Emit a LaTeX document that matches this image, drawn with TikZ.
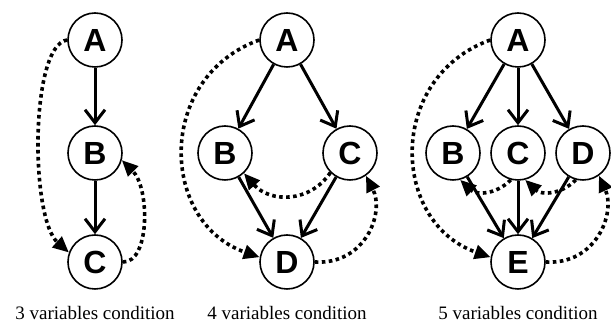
\documentclass[tikz,border=0pt]{standalone}
\usepackage{fontspec}
\setmainfont{Liberation Serif}
\newfontfamily\nodefont{Liberation Sans}
\usetikzlibrary{arrows.meta}
\begin{document}
\begin{tikzpicture}[x=1pt,y=1pt,
  var/.style={circle,draw,line width=1.6pt,minimum size=54pt,inner sep=0pt,
    font=\nodefont\bfseries\fontsize{32}{32}\selectfont},
  cause/.style={line width=3pt,-{Straight Barb[length=13pt,width=20pt,line join=miter]}},
  hidden/.style={line width=3.6pt,dash pattern=on 3.6pt off 3.4pt,
    -{Triangle[length=16pt,width=14pt]}},
  caption/.style={anchor=base,font=\fontsize{19}{19}\selectfont,inner sep=0pt}]
\useasboundingbox (0,0) rectangle (611,323);
% panel 1
\node[var] (p1a) at (95,283) {A};
\node[var] (p1b) at (95,170) {B};
\node[var] (p1c) at (95,61) {C};
\draw[cause] (p1a) -- (p1b);
\draw[cause] (p1b) -- (p1c);
\draw[hidden] (p1a.west) .. controls (30,278) and (30,105) .. (p1c.160);
\draw[hidden] (p1c.east) .. controls (150,60) and (150,135) .. (p1b.-15);
\node[caption] (cap1) at (95,3) {3 variables condition};
% panel 2
\node[var] (p2a) at (287,283) {A};
\node[var] (p2b) at (225,170) {B};
\node[var] (p2c) at (350,170) {C};
\node[var] (p2d) at (287,61) {D};
\draw[cause] (p2a) -- (p2b);
\draw[cause] (p2a) -- (p2c);
\draw[cause] (p2b) -- (p2d);
\draw[cause] (p2c) -- (p2d);
\draw[hidden] (p2a.west) .. controls (155,245) and (160,100) .. (p2d.170);
\draw[hidden] (p2c.225) .. controls (310,120) and (270,120) .. (p2b.-47);
\draw[hidden] (p2d.east) .. controls (365,58) and (385,110) .. (p2c.-55);
\node[caption] (cap2) at (287,3) {4 variables condition};
% panel 3
\node[var] (p3a) at (518,283) {A};
\node[var] (p3b) at (453,170) {B};
\node[var] (p3c) at (518,170) {C};
\node[var] (p3d) at (583,170) {D};
\node[var] (p3e) at (518,61) {E};
\draw[cause] (p3a) -- (p3b);
\draw[cause] (p3a) -- (p3c);
\draw[cause] (p3a) -- (p3d);
\draw[cause] (p3b) -- (p3e);
\draw[cause] (p3c) -- (p3e);
\draw[cause] (p3d) -- (p3e);
\draw[hidden] (p3a.west) .. controls (386,245) and (391,100) .. (p3e.170);
\draw[hidden] (p3c.-105) .. controls (496,128) and (476,128) .. (p3b.-75);
\draw[hidden] (p3d.-105) .. controls (561,128) and (541,128) .. (p3c.-75);
\draw[hidden] (p3e.east) .. controls (596,58) and (616,110) .. (p3d.-55);
\node[caption] (cap3) at (518,3) {5 variables condition};
\end{tikzpicture}
\end{document}
